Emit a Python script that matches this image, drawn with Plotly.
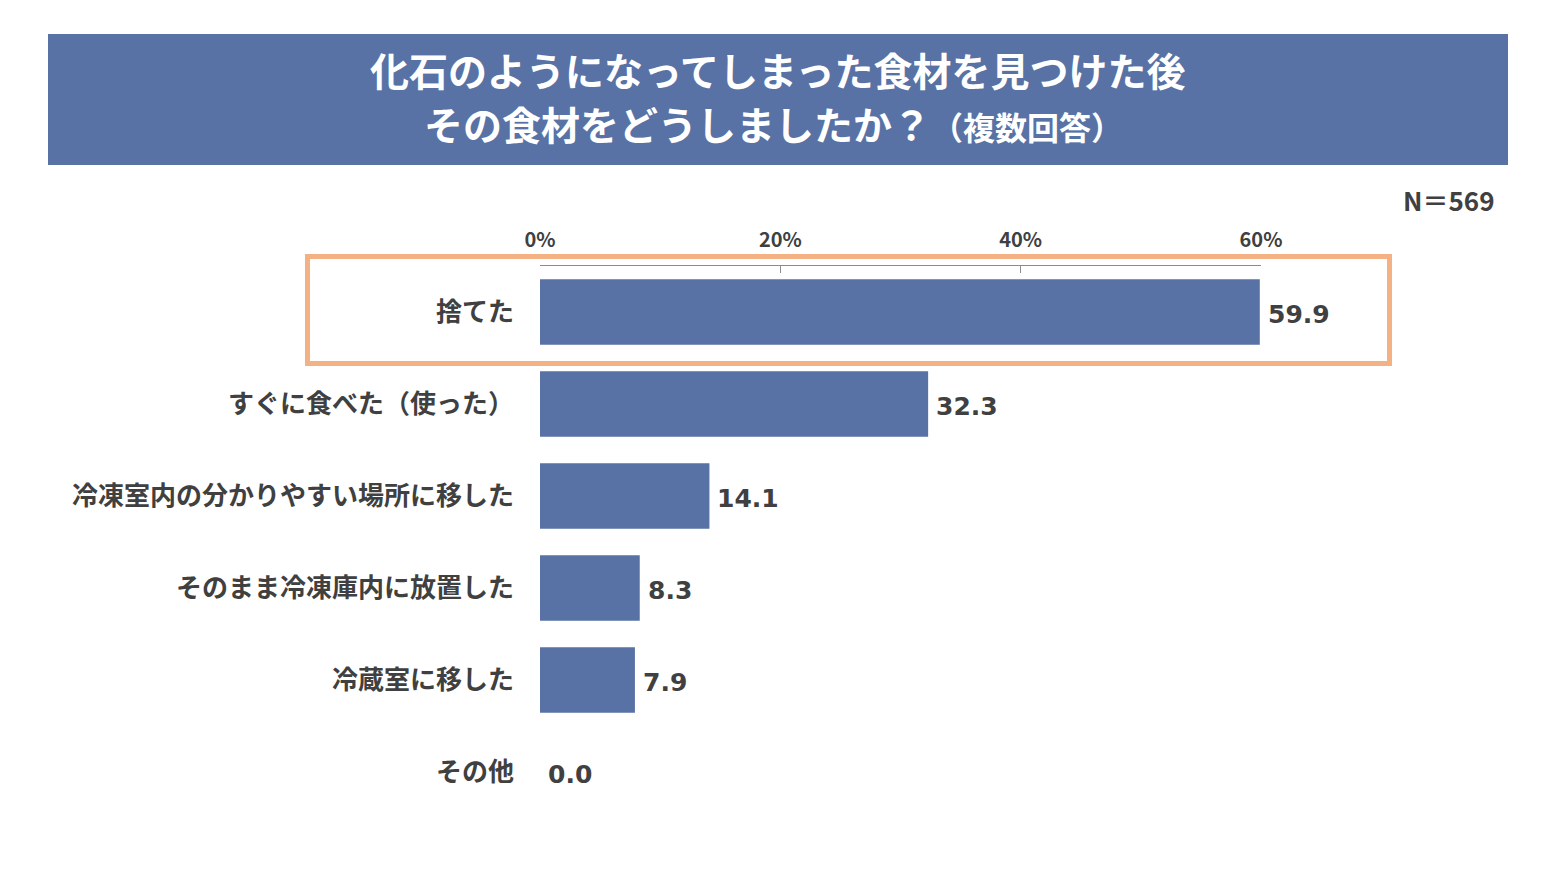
import plotly.graph_objects as go

categories = ["捨てた", "すぐに食べた（使った）", "冷凍室内の分かりやすい場所に移した",
              "そのまま冷凍庫内に放置した", "冷蔵室に移した", "その他"]
values = [59.9, 32.3, 14.1, 8.3, 7.9, 0.0]
tick_vals = [0, 20, 40, 60]
tick_text = ["0%", "20%", "40%", "60%"]

BLUE = "#5872A5"
TXT = "#404040"
JP = "Noto Sans CJK JP"

OFF = 8  # page body margin
W, H = 1553 - OFF, 873 - OFF
L, T = 540 - OFF, 266 - OFF
R = W - (1261 - OFF)
B = H - (818 - OFF)
pw, ph = W - L - R, H - T - B

def px_x(p):
    return (p - OFF - L) / pw

def px_y(p):
    return (H - B - (p - OFF)) / ph

fig = go.Figure(go.Bar(
    x=values, y=categories, orientation="h",
    marker=dict(color=BLUE, line=dict(width=0)),
    cliponaxis=False, hoverinfo="skip",
))

for c, v in zip(categories, values):
    fig.add_annotation(x=v, y=c, xref="x", yref="y", text=f"<b>{v:.1f}</b>",
                       showarrow=False, xanchor="left", yanchor="middle",
                       xshift=6, yshift=-2,
                       font=dict(family="DejaVu Sans", size=25, color=TXT))

# title box
fig.add_shape(type="rect", xref="paper", yref="paper",
              x0=px_x(48), x1=px_x(1508), y0=px_y(165), y1=px_y(34),
              fillcolor=BLUE, line=dict(width=0), layer="below")
fig.add_annotation(xref="paper", yref="paper", x=px_x(778), y=px_y(69),
                   text="<b>化石のようになってしまった食材を見つけた後</b>",
                   showarrow=False, xanchor="center", yanchor="middle",
                   font=dict(family=JP, size=39, color="white"))
fig.add_annotation(xref="paper", yref="paper", x=px_x(773), y=px_y(123),
                   text="<b>その食材をどうしましたか？<span style='font-size:32px'>（複数回答）</span></b>",
                   showarrow=False, xanchor="center", yanchor="middle",
                   font=dict(family=JP, size=39, color="white"))
fig.add_annotation(xref="paper", yref="paper", x=px_x(1497), y=px_y(199),
                   text="<b>N＝569</b>", showarrow=False, xanchor="right", yanchor="middle",
                   font=dict(family=JP, size=26, color=TXT))

# highlight box
fig.add_shape(type="rect", xref="paper", yref="paper",
              x0=px_x(307.5), x1=px_x(1389.5), y0=px_y(363.5), y1=px_y(256.5),
              line=dict(color="#F4B183", width=5), fillcolor="rgba(0,0,0,0)")

fig.update_layout(
    width=W, height=H,
    margin=dict(l=L, r=R, t=T, b=B, autoexpand=False),
    paper_bgcolor="white", plot_bgcolor="white",
    showlegend=False, bargap=0.29,
    xaxis=dict(side="top", range=[0, 60], tickvals=tick_vals,
               ticktext=[f"<b>{t}</b>" for t in tick_text],
               showgrid=False, zeroline=False, showline=True, linecolor="#8C8C8C",
               linewidth=1, ticks="inside", ticklen=7, tickcolor="#8C8C8C",
               tickfont=dict(family=JP, size=20, color=TXT), ticklabelstandoff=10),
    yaxis=dict(autorange="reversed", showgrid=False, zeroline=False, showline=False,
               ticks="", tickfont=dict(family=JP, size=26, color=TXT),
               ticklabelstandoff=25),
)
fig.update_yaxes(tickprefix="<b>", ticksuffix="</b>")

fig.write_html("out.html")
